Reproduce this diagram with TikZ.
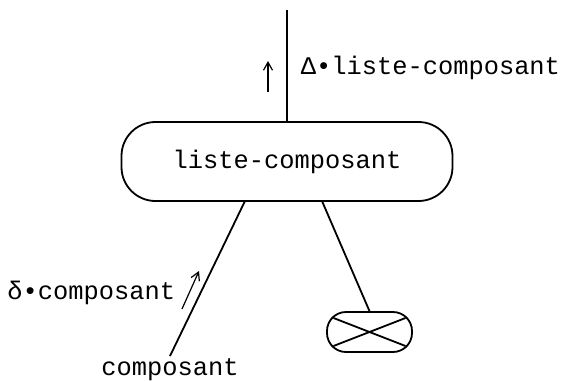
\documentclass[tikz,border=0pt]{standalone}
\usepackage{fontspec}
\setmainfont{Liberation Mono}
\usetikzlibrary{arrows.meta}

\begin{document}
\begin{tikzpicture}[
        x = 0.5pt, y = -0.5pt,
        line width = 0.9pt,
        >= {Straight Barb[length = 4pt, width = 4.5pt]},
        every node/.style = {font = \fontsize{12.7}{14}\selectfont},
        bloc/.style = {draw, rectangle, rounded corners = 17pt,
                       minimum width = 165.5pt, minimum height = 39.5pt},
        feuille/.style = {draw, rectangle, rounded corners = 9.5pt,
                          minimum width = 42.5pt, minimum height = 20pt},
        etiq/.style = {inner sep = 1pt}
    ]

      \useasboundingbox (0,0) rectangle (564,381);

      \node[bloc] (liste) at (287,161.5) {liste-composant};
      \node[feuille] (vide) at (369.5,332) {};
      \node[etiq] (comp) at (170,370) {composant};

      \coordinate (haut) at (287,10);
      \coordinate (gauche) at (245,201);
      \coordinate (droite) at (322,201);

      \node[etiq, anchor = west] (delta) at (298,68) {Δ•liste-composant};
      \node[etiq, anchor = east] (dcomp) at (178,293) {δ•composant};

      \draw (liste.north) -- (haut);
      \draw (gauche) -- (comp.north);
      \draw (droite) -- (vide.north);

      % croix dans la feuille
      \draw ([shift = {(-36,-14)}]vide.center) -- ([shift = {(36,14)}]vide.center);
      \draw ([shift = {(-36,14)}]vide.center) -- ([shift = {(36,-14)}]vide.center);

      % sens de transmission
      \draw[->, line width = 0.6pt] (268,92) -- (268,61);
      \draw[->, line width = 0.6pt] (182,309) -- (199,271);

    \end{tikzpicture}
\end{document}
